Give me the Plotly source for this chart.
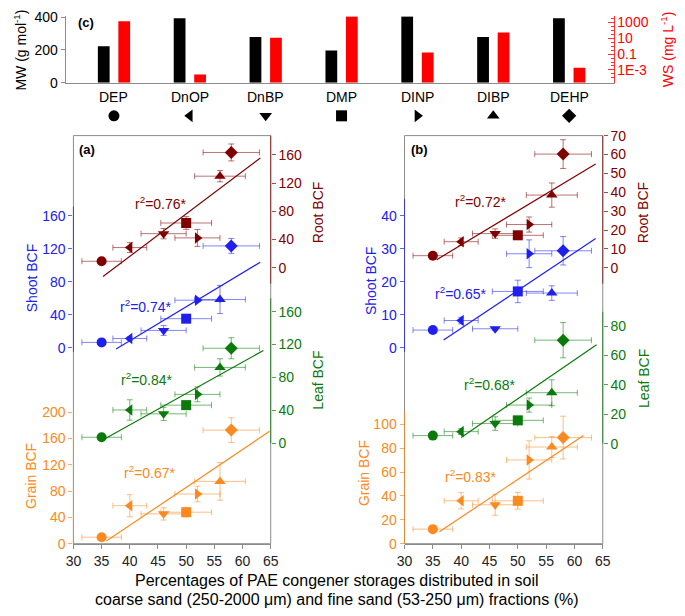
import plotly.graph_objects as go

W, H = 685, 616
FONT = "Liberation Sans, Arial, sans-serif"


def px(x):
    return x / W


def py(y):
    return 1 - y / H


# ---------------- data ----------------
compounds = ["DEP", "DnOP", "DnBP", "DMP", "DINP", "DIBP", "DEHP"]
symbols = ["circle", "triangle-left", "triangle-down", "square",
           "triangle-right", "triangle-up", "diamond"]
mw = [222, 393, 279, 196, 404, 279, 393]                 # g/mol
ws = [1330, 2.8e-4, 11.2, 5100, 0.155, 52, 0.0019]        # mg/L

sand_pct = [35, 40, 46, 50, 52, 56, 58]
sand_err = [3.5, 3, 4, 4.5, 4, 4.5, 5]

# panel (a)
root_a = [9.2, 28.6, 48.3, 63.4, 42.3, 129.7, 163.3]
root_a_err = [2, 7, 7.3, 9, 12, 8, 12]
shoot_a = [6.7, 11.4, 21.2, 35.4, 57.8, 58.6, 123.5]
shoot_a_err = [2, 2, 6, 3, 2, 17, 9]
leaf_a = [7.1, 40.3, 35.6, 46.2, 59.3, 92.1, 115.4]
leaf_a_err = [2, 12.4, 8, 3, 9, 10.5, 12.8]
grain_a = [9.9, 57.8, 45.4, 47.9, 75.6, 94.8, 172.8]
grain_a_err = [2, 16.8, 9.4, 7, 11.9, 28.6, 18.8]

# panel (b)
root_b = [6.4, 13.8, 18.1, 17.2, 22.9, 38.5, 60.2]
root_b_err = [1, 2, 2.5, 1.5, 4, 6.4, 7.6]
shoot_b = [5.4, 8.3, 5.8, 17.1, 28.5, 16.6, 29.4]
shoot_b_err = [0.5, 1, 0.5, 3.4, 4.2, 2.2, 4.3]
leaf_b = [5.5, 8.2, 13.7, 15.9, 26.3, 34.7, 70.5]
leaf_b_err = [1, 2, 4.6, 1.5, 4.8, 8.8, 12]
grain_b = [12.2, 35.9, 32.6, 35.9, 70.1, 80.9, 88.8]
grain_b_err = [1, 6.8, 8.8, 7, 16, 8.8, 17.9]

# regression lines (x endpoints, y endpoints)
root_a_fit_x, root_a_fit_y = [35.25, 63.15], [-12.4, 155.4]
shoot_a_fit_x, shoot_a_fit_y = [37.57, 63.15], [-1.2, 103.8]
leaf_a_fit_x, leaf_a_fit_y = [35.43, 63.7], [4.7, 112.6]
grain_a_fit_x, grain_a_fit_y = [35.84, 64.8], [4.0, 171.0]
root_b_fit_x, root_b_fit_y = [35.69, 63.74], [4.3, 55.0]
shoot_b_fit_x, shoot_b_fit_y = [36.9, 63.74], [2.4, 33.1]
leaf_b_fit_x, leaf_b_fit_y = [40.0, 63.9], [4.2, 67.4]
grain_b_fit_x, grain_b_fit_y = [36.15, 61.6], [10.0, 90.5]

r2_a = {"root": "0.76", "shoot": "0.74", "leaf": "0.84", "grain": "0.67"}
r2_b = {"root": "0.72", "shoot": "0.65", "leaf": "0.68", "grain": "0.83"}

mw_ticks = [0, 200, 400]
ws_ticks = [1000, 10, 0.1, 0.001]
ws_ticktext = ["1000", "10", "0.1", "1E-3"]
x_ticks = [30, 35, 40, 45, 50, 55, 60, 65]

# ---------------- styles ----------------
ROOT = "#800000"
SHOOT = "#2020ee"
LEAF = "#0a7a0a"
GRAIN = "#fa8a20"
GRAY = "#8c8c8c"


def rgba(hexc, a):
    h = hexc.lstrip("#")
    r, g, b = int(h[0:2], 16), int(h[2:4], 16), int(h[4:6], 16)
    return f"rgba({r},{g},{b},{a})"


PANEL_TOP, PANEL_BOT = 131, 550


def yrange(v0, p0, v1, p1):
    s = (p0 - p1) / (v1 - v0)  # px per unit
    vmin = v0 - (PANEL_BOT - p0) / s
    vmax = v0 + (p0 - PANEL_TOP) / s
    return [vmin, vmax]


fig = go.Figure()

# ---------------- top chart (c) ----------------
cat_idx = list(range(len(compounds)))
fig.add_trace(go.Bar(x=cat_idx, y=mw, xaxis="x", yaxis="y", marker_color="black",
                     width=0.155, offset=-0.212, marker_line_width=0))
WS_LOG = [-4.6, 3.75]
fig.add_trace(go.Bar(x=cat_idx, y=[v - 10 ** WS_LOG[0] for v in ws], base=10 ** WS_LOG[0],
                     xaxis="x", yaxis="y2", marker_color="#ff0000",
                     width=0.155, offset=0.058, marker_line_width=0))
fig.add_trace(go.Scatter(x=cat_idx, y=[0.5] * len(cat_idx), xaxis="x", yaxis="y11",
                         mode="markers", marker=dict(symbol=symbols, size=11, color="black"),
                         cliponaxis=False))

# ---------------- scatter panels ----------------
def add_series(xax, yax, vals, errs, color, fx, fy):
    fig.add_trace(go.Scatter(
        x=fx, y=fy, xaxis=xax, yaxis=yax, mode="lines",
        line=dict(color=color, width=1.2), hoverinfo="skip"))
    fig.add_trace(go.Scatter(
        x=sand_pct, y=vals, xaxis=xax, yaxis=yax, mode="markers",
        marker=dict(symbol=symbols, size=10, color=color),
        error_x=dict(type="data", array=sand_err, color=rgba(color, 0.55), thickness=1, width=3),
        error_y=dict(type="data", array=errs, color=rgba(color, 0.55), thickness=1, width=3),
        cliponaxis=False))


add_series("x2", "y3", grain_a, grain_a_err, GRAIN, grain_a_fit_x, grain_a_fit_y)
add_series("x2", "y4", leaf_a, leaf_a_err, LEAF, leaf_a_fit_x, leaf_a_fit_y)
add_series("x2", "y5", shoot_a, shoot_a_err, SHOOT, shoot_a_fit_x, shoot_a_fit_y)
add_series("x2", "y6", root_a, root_a_err, ROOT, root_a_fit_x, root_a_fit_y)
add_series("x3", "y7", grain_b, grain_b_err, GRAIN, grain_b_fit_x, grain_b_fit_y)
add_series("x3", "y8", leaf_b, leaf_b_err, LEAF, leaf_b_fit_x, leaf_b_fit_y)
add_series("x3", "y9", shoot_b, shoot_b_err, SHOOT, shoot_b_fit_x, shoot_b_fit_y)
add_series("x3", "y10", root_b, root_b_err, ROOT, root_b_fit_x, root_b_fit_y)


# ---------------- axes ----------------
def yax(color, rng, tickvals, side, anchor, overlay=None):
    d = dict(range=rng, tickvals=tickvals, side=side, anchor=anchor,
             showgrid=False, zeroline=False, showline=False,
             ticks="outside", ticklen=4, tickcolor=rgba(color, 0.7),
             tickfont=dict(family=FONT, size=14, color=color), fixedrange=True)
    if overlay:
        d["overlaying"] = overlay
    else:
        d["domain"] = [py(PANEL_BOT), py(PANEL_TOP)]
    return d


# log minor ticks for WS axis (every half decade)
minor_ws = []
k = -4.5
while k <= 3.5:
    if 10 ** k not in ws_ticks:
        minor_ws.append(10 ** k)
    k += 0.5

mw_top = 400 * (76.7 - 8.5) / (76.7 - 9.3)
layout = dict(
    width=W, height=H, margin=dict(l=0, r=0, t=0, b=0),
    paper_bgcolor="white", plot_bgcolor="rgba(0,0,0,0)",
    showlegend=False, barmode="overlay", hovermode=False,
    font=dict(family=FONT, size=14, color="black"),
    xaxis=dict(domain=[px(59), px(620)], anchor="y", range=[-0.637, 6.585],
               showticklabels=False, ticks="", showgrid=False, zeroline=False,
               showline=True, linecolor=GRAY, linewidth=1, fixedrange=True),
    yaxis=dict(domain=[py(76.7), py(8.5)], range=[0, mw_top], tickvals=mw_ticks,
               showgrid=False, zeroline=False, showline=True, linecolor=GRAY,
               ticks="outside", ticklen=4, tickcolor=GRAY,
               tickfont=dict(family=FONT, size=14, color="black"), fixedrange=True),
    yaxis2=dict(type="log", overlaying="y", side="right", anchor="x", range=WS_LOG,
                tickvals=ws_ticks, ticktext=ws_ticktext, showgrid=False, zeroline=False,
                showline=True, linecolor="#ff3030", ticks="inside", ticklen=6,
                tickcolor="#ff3030",
                minor=dict(tickmode="array", tickvals=minor_ws, ticks="inside",
                           ticklen=3, tickcolor="#ff3030", showgrid=False),
                tickfont=dict(family=FONT, size=14, color="#ff0000"), fixedrange=True),
    yaxis11=dict(domain=[py(121), py(100.4)], range=[0, 1], visible=False,
                 anchor="x", fixedrange=True),
    xaxis2=dict(domain=[px(67), px(269)], anchor="y3", range=[30, 65], tickvals=x_ticks,
                showgrid=False, zeroline=False, showline=True, linecolor=GRAY,
                ticks="outside", ticklen=4, tickcolor=GRAY,
                tickfont=dict(family=FONT, size=14, color="#222"), fixedrange=True),
    xaxis3=dict(domain=[px(406), px(609)], anchor="y7", range=[30, 65], tickvals=x_ticks,
                showgrid=False, zeroline=False, showline=True, linecolor=GRAY,
                ticks="outside", ticklen=4, tickcolor=GRAY,
                tickfont=dict(family=FONT, size=14, color="#222"), fixedrange=True),
    yaxis3=yax(GRAIN, yrange(0, 550, 200, 415), [0, 40, 80, 120, 160, 200], "left", "x2"),
    yaxis4=yax(LEAF, yrange(0, 446.7, 160, 311.7), [0, 40, 80, 120, 160], "right", "x2", "y3"),
    yaxis5=yax(SHOOT, yrange(0, 349, 160, 213.3), [0, 40, 80, 120, 160], "left", "x2", "y3"),
    yaxis6=yax(ROOT, yrange(0, 266.7, 160, 150.7), [0, 40, 80, 120, 160], "right", "x2", "y3"),
    yaxis7=yax(GRAIN, yrange(0, 550, 100, 427.3), [0, 20, 40, 60, 80, 100], "left", "x3"),
    yaxis8=yax(LEAF, yrange(0, 447.3, 80, 326.7), [0, 20, 40, 60, 80], "right", "x3", "y7"),
    yaxis9=yax(SHOOT, yrange(0, 349, 40, 213.3), [0, 10, 20, 30, 40], "left", "x3", "y7"),
    yaxis10=yax(ROOT, yrange(0, 266.7, 70, 131), [0, 10, 20, 30, 40, 50, 60, 70], "right", "x3", "y7"),
)
fig.update_layout(**layout)

# ---------------- frames & coloured axis segments ----------------
shapes = []
for xl, xr in [(67, 269), (406, 609)]:
    shapes.append(dict(type="rect", xref="paper", yref="paper", x0=px(xl), x1=px(xr),
                       y0=py(PANEL_BOT), y1=py(PANEL_TOP), line=dict(color=GRAY, width=1)))


def seg(x, y0, y1, color):
    shapes.append(dict(type="line", xref="paper", yref="paper", x0=px(x), x1=px(x),
                       y0=py(y0), y1=py(y1), line=dict(color=rgba(color, 0.75), width=1)))


seg(269, 131, 283, ROOT)
seg(269, 298, 447, LEAF)
seg(67, 204, 353, SHOOT)
seg(67, 413, 550, GRAIN)
seg(609, 131, 283, ROOT)
seg(609, 312, 447, LEAF)
seg(406, 196, 353, SHOOT)
seg(406, 415, 550, GRAIN)
fig.update_layout(shapes=shapes)

# ---------------- annotations ----------------
ann = []


def text(x, y, s, color="black", size=14, angle=0, bold=False, xanchor="center"):
    ann.append(dict(x=px(x), y=py(y), xref="paper", yref="paper", text=(f"<b>{s}</b>" if bold else s),
                    showarrow=False, textangle=angle, xanchor=xanchor, yanchor="middle",
                    font=dict(family=FONT, size=size, color=color)))


for i, name in enumerate(compounds):
    ann.append(dict(x=i, y=py(91), xref="x", yref="paper", text=name, showarrow=False,
                    xanchor="center", yanchor="middle", font=dict(family=FONT, size=14, color="black")))

text(12, 43, "MW (g mol<sup>-1</sup>)", angle=-90)
text(675, 42, "WS (mg L<sup>-1</sup>)", color="#ff0000", angle=-90)
text(80, 15, "(c)", size=13, bold=True)
text(81, 145, "(a)", size=13, bold=True)
text(421, 145, "(b)", size=13, bold=True)

text(24, 277, "Shoot BCF", color=SHOOT, angle=-90)
text(371, 280, "Shoot BCF", color=SHOOT, angle=-90)
text(317, 210, "Root BCF", color=ROOT, angle=-90)
text(650, 210, "Root BCF", color=ROOT, angle=-90)
text(318, 382, "Leaf BCF", color=LEAF, angle=-90)
text(651, 380, "Leaf BCF", color=LEAF, angle=-90)
text(23, 480, "Grain BCF", color=GRAIN, angle=-90)
text(364, 477, "Grain BCF", color=GRAIN, angle=-90)

text(157, 200, f"r<sup>2</sup>={r2_a['root']}*", color=ROOT)
text(141, 306, f"r<sup>2</sup>={r2_a['shoot']}*", color=SHOOT)
text(142, 381, f"r<sup>2</sup>={r2_a['leaf']}*", color=LEAF)
text(145, 476, f"r<sup>2</sup>={r2_a['grain']}*", color=GRAIN)
text(484, 198, f"r<sup>2</sup>={r2_b['root']}*", color=ROOT)
text(464, 293, f"r<sup>2</sup>={r2_b['shoot']}*", color=SHOOT)
text(494, 386, f"r<sup>2</sup>={r2_b['leaf']}*", color=LEAF)
text(474, 480, f"r<sup>2</sup>={r2_b['grain']}*", color=GRAIN)

text(337, 588, "Percentages of PAE congener storages distributed in soil", size=16)
text(337, 607, "coarse sand (250-2000 μm) and fine sand (53-250 μm) fractions (%)", size=16)

fig.update_layout(annotations=ann)

fig.write_html(
    "out.html",
    config={"displayModeBar": False, "staticPlot": True},
    post_script="document.body.style.margin='0';document.body.style.overflow='hidden';",
)
